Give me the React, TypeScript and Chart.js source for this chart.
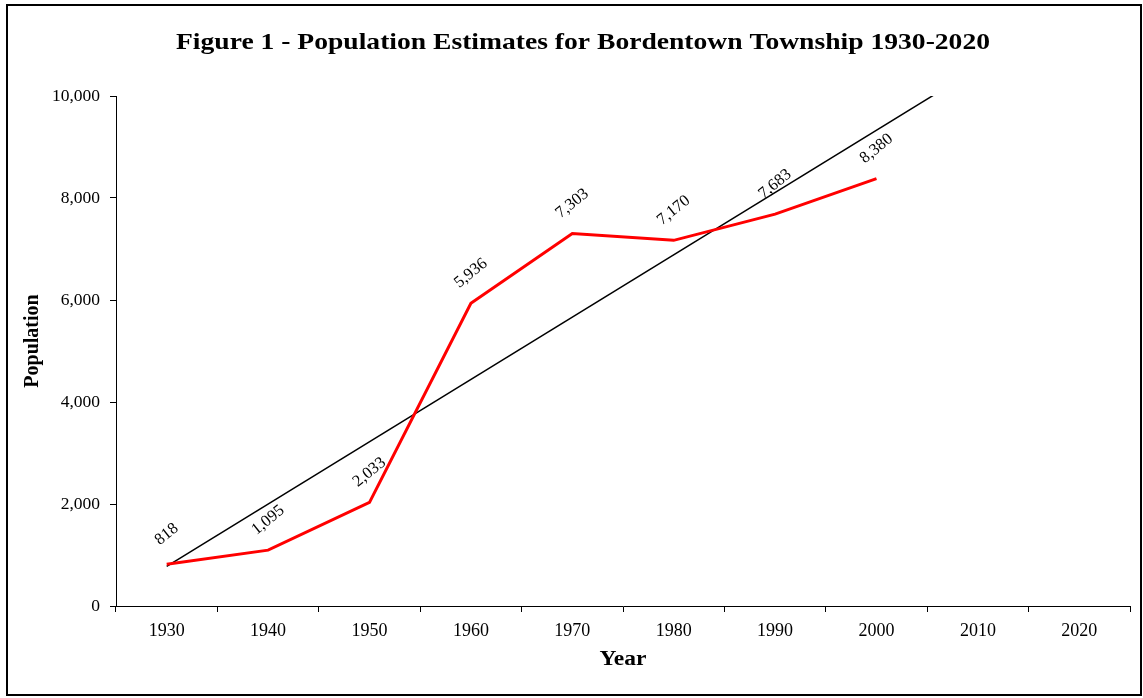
import React, { useEffect, useRef } from "react";
import { Chart, registerables } from "chart.js";

Chart.register(...registerables);

const years = ["1930", "1940", "1950", "1960", "1970", "1980", "1990", "2000", "2010", "2020"];
const population = [818, 1095, 2033, 5936, 7303, 7170, 7683, 8380];
const trendYears = ["1930", "2010"];
const trendValues = [775, 10551];
const yTicks = [0, 2000, 4000, 6000, 8000, 10000];
const titleText = "Figure 1 - Population Estimates for Bordentown Township 1930-2020";
const xTitle = "Year";
const yTitle = "Population";

const SERIF = "'Liberation Serif', 'Times New Roman', serif";

function stretchedText(ctx: any, text: string, x: number, y: number, targetWidth: number) {
  const w = ctx.measureText(text).width;
  ctx.save();
  ctx.translate(x, y);
  ctx.scale(targetWidth / w, 1);
  ctx.fillText(text, 0, 0);
  ctx.restore();
}

const framePlugin = {
  id: "frame",
  afterDraw(chart: any) {
    const ctx = chart.ctx;
    ctx.save();
    ctx.strokeStyle = "#000";
    ctx.lineWidth = 2;
    ctx.strokeRect(7, 5, 1134, 690);
    ctx.fillStyle = "#000";
    ctx.textAlign = "center";
    ctx.textBaseline = "middle";
    ctx.font = `bold 23.5px ${SERIF}`;
    stretchedText(ctx, titleText, 583, 43, 814);
    ctx.font = `bold 20px ${SERIF}`;
    stretchedText(ctx, xTitle, 623, 660, 47);
    ctx.save();
    ctx.translate(33, 341);
    ctx.rotate(-Math.PI / 2);
    ctx.fillText(yTitle, 0, 0);
    ctx.restore();
    ctx.restore();
  },
};

const labelPlugin = {
  id: "pointLabels",
  afterDatasetsDraw(chart: any) {
    const ctx = chart.ctx;
    const meta = chart.getDatasetMeta(0);
    ctx.save();
    ctx.fillStyle = "#000";
    ctx.font = `16.5px ${SERIF}`;
    ctx.textAlign = "center";
    ctx.textBaseline = "middle";
    meta.data.forEach((pt: any, i: number) => {
      ctx.save();
      ctx.translate(pt.x, pt.y - 30);
      ctx.rotate((-39 * Math.PI) / 180);
      ctx.fillText(population[i].toLocaleString("en-US"), 0, 0);
      ctx.restore();
    });
    ctx.restore();
  },
};

export default function App() {
  const ref = useRef<HTMLCanvasElement>(null);
  useEffect(() => {
    document.body.style.margin = "0";
    const chart = new Chart(ref.current!, {
      type: "line",
      data: {
        labels: years,
        datasets: [
          {
            label: "Population",
            data: population,
            borderColor: "rgb(255,0,0)",
            borderWidth: 3,
            pointRadius: 0,
            tension: 0,
            clip: 0 as any,
          },
          {
            label: "Trend",
            data: trendYears.map((x, i) => ({ x, y: trendValues[i] })) as any,
            borderColor: "#000",
            borderWidth: 1.5,
            pointRadius: 0,
            tension: 0,
            clip: 0 as any,
          },
        ],
      },
      options: {
        animation: false,
        responsive: false,
        layout: { padding: { left: 0, top: 96, right: 13, bottom: 0 } },
        plugins: { legend: { display: false }, tooltip: { enabled: false }, title: { display: false } },
        scales: {
          x: {
            offset: true,
            grid: { offset: true, drawOnChartArea: false, drawTicks: true, tickLength: 6, color: "#000" },
            border: { display: true, color: "#000", width: 1 },
            ticks: { color: "#000", font: { family: SERIF, size: 18 }, padding: 8, maxRotation: 0 },
            afterFit: (s: any) => { s.height = 92; },
          },
          y: {
            min: 0,
            max: 10000,
            afterBuildTicks: (s: any) => { s.ticks = yTicks.map((v) => ({ value: v })); },
            grid: { drawOnChartArea: false, drawTicks: true, tickLength: 6, color: "#000" },
            border: { display: true, color: "#000", width: 1 },
            ticks: { color: "#000", font: { family: SERIF, size: 17.5 }, padding: 10, callback: (v: any) => Number(v).toLocaleString("en-US") },
            afterFit: (s: any) => { s.width = 116; },
          },
        },
      },
      plugins: [framePlugin, labelPlugin],
    });
    return () => chart.destroy();
  }, []);
  return (
    <div style={{ width: 1143, height: 698 }}>
      <canvas ref={ref} width={1143} height={698} style={{ display: "block" }} />
    </div>
  );
}
